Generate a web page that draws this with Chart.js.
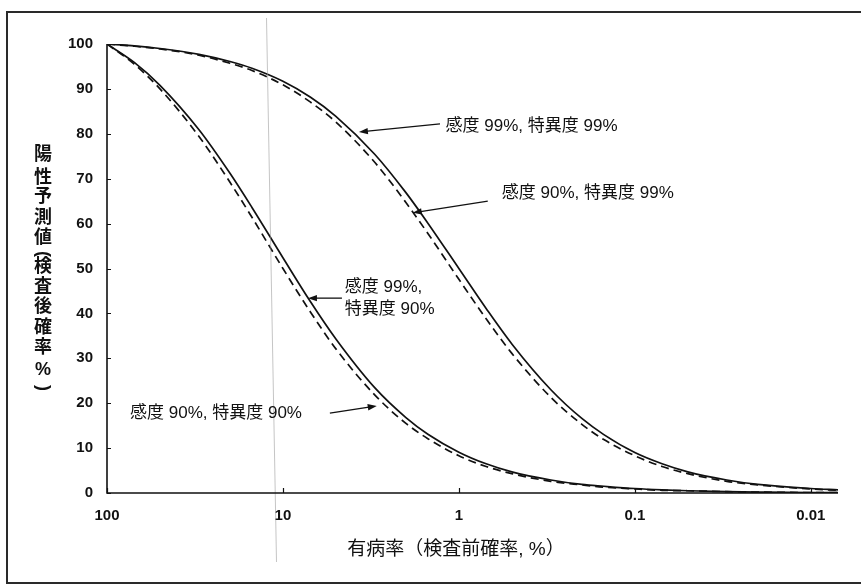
<!DOCTYPE html>
<html>
<head>
<meta charset="utf-8">
<script src="https://cdn.jsdelivr.net/npm/chart.js@4/dist/chart.umd.min.js"></script>
<style>
  html, body { margin: 0; padding: 0; background: #fff; }
  #wrap { width: 861px; height: 588px; position: relative; }
</style>
</head>
<body>
<div id="wrap"><canvas id="c"></canvas></div>
<script>
// Prevalence (pre-test probability, %) at which each curve is sampled
const prevalence = [100, 70, 50, 30, 20, 15, 10, 7, 5, 3, 2, 1.5, 1, 0.7, 0.5, 0.3, 0.2, 0.15, 0.1, 0.07, 0.05, 0.03, 0.02, 0.01, 0.007];

// Positive predictive value (%) for each sensitivity / specificity pair
const ppvSens99Spec99 = [100, 99.6, 99.0, 97.7, 96.1, 94.6, 91.7, 88.2, 83.9, 75.4, 66.9, 60.1, 50.0, 41.1, 33.2, 23.0, 16.6, 13.0, 9.0, 6.5, 4.7, 2.9, 1.9, 1.0, 0.7];
const ppvSens90Spec99 = [100, 99.5, 98.9, 97.5, 95.7, 94.1, 90.9, 87.1, 82.6, 73.6, 64.7, 57.8, 47.6, 38.8, 31.1, 21.3, 15.3, 11.9, 8.3, 5.9, 4.3, 2.6, 1.8, 0.9, 0.6];
const ppvSens99Spec90 = [100, 95.9, 90.8, 80.9, 71.2, 63.6, 52.4, 42.7, 34.3, 23.4, 16.8, 13.1, 9.1, 6.5, 4.7, 2.9, 1.9, 1.5, 1.0, 0.7, 0.5, 0.3, 0.2, 0.1, 0.1];
const ppvSens90Spec90 = [100, 95.5, 90.0, 79.4, 69.2, 61.4, 50.0, 40.4, 32.1, 21.8, 15.5, 12.1, 8.3, 5.9, 4.3, 2.6, 1.8, 1.3, 0.9, 0.6, 0.5, 0.3, 0.2, 0.1, 0.1];

// Axis ticks
const xTickValues = [100, 10, 1, 0.1, 0.01];
const xTickLabels = ['100', '10', '1', '0.1', '0.01'];
const yTickValues = [0, 10, 20, 30, 40, 50, 60, 70, 80, 90, 100];

// Axis titles (the y title is set vertically, one character per row;
// brackets are turned a quarter turn so they open along the column)
const xTitle = '有病率（検査前確率, %）';
const yTitleChars = ['陽', '性', '予', '測', '値', '(', '検', '査', '後', '確', '率', '%', ')'];

// Curve call-outs: text lines, text anchor, arrow tail and arrow tip (data coordinates)
const callouts = [
  { lines: ['感度 99%, 特異度 99%'], text: [1.19, 81.7], tail: [1.28, 82.2], tip: [3.70, 80.4] },
  { lines: ['感度 90%, 特異度 99%'], text: [0.57, 66.8], tail: [0.685, 65.0], tip: [1.83, 62.4] },
  { lines: ['感度 99%,', '特異度 90%'], text: [4.45, 45.7], tail: [4.62, 43.4], tip: [7.21, 43.4] },
  { lines: ['感度 90%, 特異度 90%'], text: [74.0, 17.8], tail: [5.41, 17.8], tip: [2.93, 19.4] }
];

const toPoints = arr => prevalence.map((p, i) => ({ x: p, y: arr[i] }));

const LATIN = "'Liberation Sans', Arial, 'Noto Sans CJK JP', sans-serif";
const CJK = "'Liberation Sans', 'Noto Sans CJK JP', sans-serif";

function arrow(ctx, x1, y1, x2, y2) {
  const ang = Math.atan2(y2 - y1, x2 - x1);
  const len = 9, half = 3.2;
  ctx.beginPath();
  ctx.moveTo(x1, y1);
  ctx.lineTo(x2 - Math.cos(ang) * len * 0.7, y2 - Math.sin(ang) * len * 0.7);
  ctx.stroke();
  ctx.beginPath();
  ctx.moveTo(x2, y2);
  ctx.lineTo(x2 - Math.cos(ang) * len - Math.sin(ang) * half, y2 - Math.sin(ang) * len + Math.cos(ang) * half);
  ctx.lineTo(x2 - Math.cos(ang) * len + Math.sin(ang) * half, y2 - Math.sin(ang) * len - Math.cos(ang) * half);
  ctx.closePath();
  ctx.fill();
}

const decorations = {
  id: 'decorations',
  beforeDraw(chart) {
    const ctx = chart.ctx;
    ctx.save();
    ctx.fillStyle = '#fff';
    ctx.fillRect(0, 0, chart.width, chart.height);
    ctx.restore();
  },
  afterDraw(chart) {
    const ctx = chart.ctx;
    const xs = chart.scales.x, ys = chart.scales.y;
    const area = chart.chartArea;
    ctx.save();

    // page frame
    ctx.strokeStyle = '#2a2a2a';
    ctx.lineWidth = 2;
    ctx.strokeRect(7, 12, 870, 571);

    // faint crease line across the page
    ctx.strokeStyle = 'rgba(150,150,150,0.55)';
    ctx.lineWidth = 1;
    ctx.beginPath();
    ctx.moveTo(266.5, 18);
    ctx.lineTo(276.5, 562);
    ctx.stroke();

    // axes
    ctx.strokeStyle = '#111';
    ctx.lineWidth = 1.6;
    ctx.beginPath();
    ctx.moveTo(area.left, area.top);
    ctx.lineTo(area.left, area.bottom);
    ctx.lineTo(area.right, area.bottom);
    ctx.stroke();

    // inward tick marks
    ctx.lineWidth = 1.2;
    ctx.beginPath();
    yTickValues.forEach(v => {
      const y = Math.round(ys.getPixelForValue(v)) + 0.5;
      ctx.moveTo(area.left, y);
      ctx.lineTo(area.left + 4, y);
    });
    xTickValues.forEach(v => {
      const x = Math.round(xs.getPixelForValue(v)) + 0.5;
      ctx.moveTo(x, area.bottom);
      ctx.lineTo(x, area.bottom - 5);
    });
    ctx.stroke();

    // vertical y-axis title
    ctx.fillStyle = '#111';
    ctx.textAlign = 'center';
    ctx.textBaseline = 'middle';
    const rowY = [0, 23, 42, 63, 83, 99, 112, 132, 152, 173, 193, 215, 233];
    yTitleChars.forEach((ch, i) => {
      const y = 155 + rowY[i];
      if (ch === '(' || ch === ')') {
        ctx.save();
        ctx.translate(43, y);
        ctx.rotate(Math.PI / 2);
        ctx.font = 'bold 18px ' + LATIN;
        ctx.fillText(ch, 0, 0);
        ctx.restore();
      } else {
        ctx.font = 'bold 18px ' + CJK;
        ctx.fillText(ch, 43, y);
      }
    });

    // x-axis title
    ctx.font = '19px ' + CJK;
    ctx.fillText(xTitle, 456, 550);

    // call-outs
    ctx.font = '17px ' + CJK;
    ctx.textAlign = 'left';
    ctx.strokeStyle = '#111';
    ctx.lineWidth = 1.3;
    callouts.forEach(c => {
      const tx = xs.getPixelForValue(c.text[0]);
      const ty = ys.getPixelForValue(c.text[1]);
      c.lines.forEach((ln, i) => ctx.fillText(ln, tx, ty + i * 22));
      arrow(ctx,
        xs.getPixelForValue(c.tail[0]), ys.getPixelForValue(c.tail[1]),
        xs.getPixelForValue(c.tip[0]), ys.getPixelForValue(c.tip[1]));
    });

    ctx.restore();
  }
};

const lineStyle = (data, dashed) => ({
  data: toPoints(data),
  borderColor: '#111',
  borderWidth: 1.7,
  borderDash: dashed ? [8, 5] : [],
  pointRadius: 0,
  fill: false,
  cubicInterpolationMode: 'monotone'
});

new Chart(document.getElementById('c'), {
  type: 'line',
  data: {
    datasets: [
      lineStyle(ppvSens90Spec99, true),
      lineStyle(ppvSens99Spec99, false),
      lineStyle(ppvSens90Spec90, true),
      lineStyle(ppvSens99Spec90, false)
    ]
  },
  options: {
    responsive: true,
    maintainAspectRatio: false,
    animation: false,
    devicePixelRatio: 1,
    layout: { padding: { left: 0, right: 23, top: 44, bottom: 0 } },
    plugins: { legend: { display: false }, tooltip: { enabled: false } },
    scales: {
      x: {
        type: 'logarithmic',
        reverse: true,
        min: 0.007,
        max: 100,
        afterBuildTicks: s => { s.ticks = xTickValues.map(v => ({ value: v })); },
        afterFit: s => { s.height = 95; },
        grid: { display: false, drawTicks: false },
        border: { display: false },
        ticks: {
          autoSkip: false,
          maxRotation: 0,
          padding: 14,
          color: '#111',
          font: { family: LATIN, size: 15, weight: 'bold' },
          callback: v => xTickLabels[xTickValues.indexOf(v)]
        }
      },
      y: {
        min: 0,
        max: 100,
        afterBuildTicks: s => { s.ticks = yTickValues.map(v => ({ value: v })); },
        afterFit: s => { s.width = 107; },
        grid: { display: false, drawTicks: false },
        border: { display: false },
        ticks: {
          padding: 14,
          color: '#111',
          font: { family: LATIN, size: 15, weight: 'bold' }
        }
      }
    }
  },
  plugins: [decorations]
});
</script>
</body>
</html>
